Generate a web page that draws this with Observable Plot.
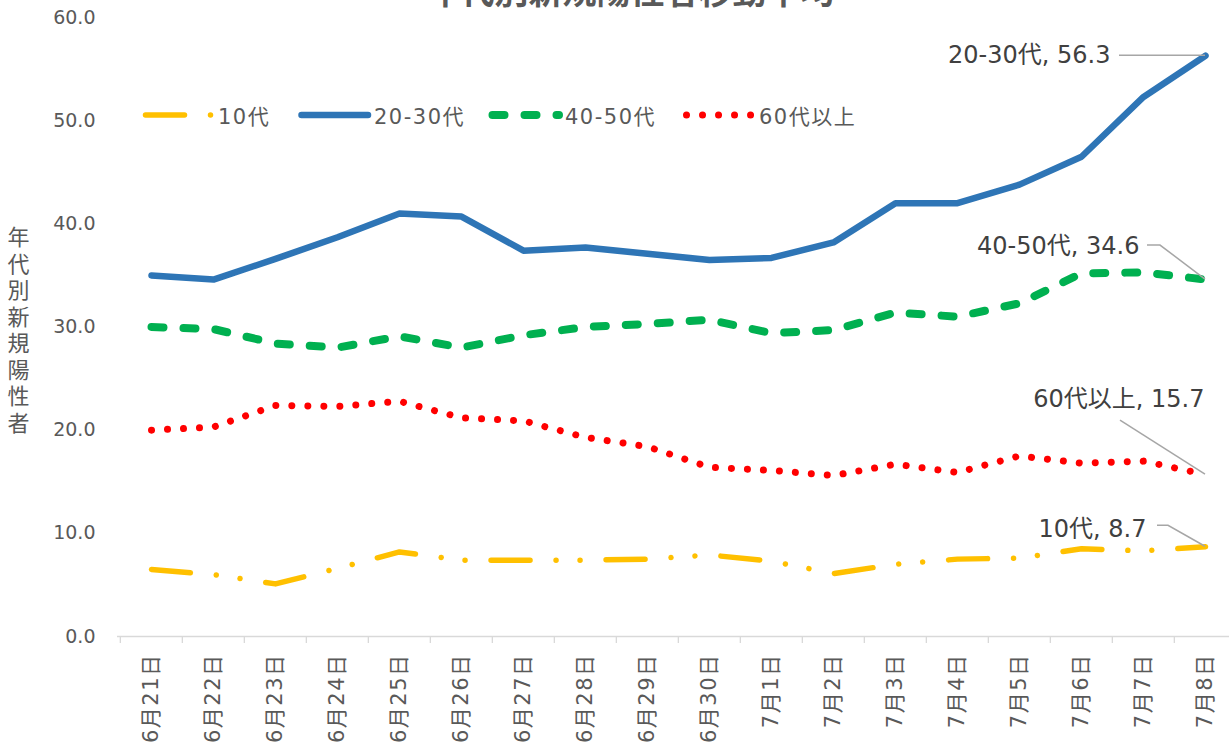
<!DOCTYPE html>
<html>
<head>
<meta charset="utf-8">
<script src="https://cdn.jsdelivr.net/npm/d3@7"></script>
<script src="https://cdn.jsdelivr.net/npm/@observablehq/plot@0.6"></script>
<style>
  html, body { margin: 0; padding: 0; background: #fff; overflow: hidden; width: 1229px; height: 746px; }
  #wrap { position: relative; width: 1229px; height: 746px; overflow: hidden; }
  #legend { position: absolute; top: 103px; left: 0; height: 24px; width: 1229px;
            font-family: "DejaVu Sans", "Noto Sans CJK JP", sans-serif; font-size: 21px; color: #595959; white-space: nowrap; }
  #legend .item { position: absolute; top: 0; height: 24px; display: flex; align-items: center; }
  #legend svg { display: block; }
  #legend span { letter-spacing: 1.5px; }
</style>
</head>
<body>
<div id="wrap"><div id="legend"></div></div>
<script>
// ---- data ----
const dates = ["6月21日","6月22日","6月23日","6月24日","6月25日","6月26日","6月27日","6月28日","6月29日","6月30日",
               "7月1日","7月2日","7月3日","7月4日","7月5日","7月6日","7月7日","7月8日"];
const seriesNames = ["10代", "20-30代", "40-50代", "60代以上"];
const teens    = [6.5, 6.0, 5.1, 6.6, 8.2, 7.4, 7.4, 7.4, 7.5, 7.9, 7.3, 6.1, 7.0, 7.5, 7.6, 8.5, 8.3, 8.7];
const age20_30 = [35.0, 34.6, 36.6, 38.7, 41.0, 40.7, 37.4, 37.7, 37.1, 36.5, 36.7, 38.2, 42.0, 42.0, 43.8, 46.5, 52.3, 56.3];
const age40_50 = [30.0, 29.8, 28.4, 28.0, 29.1, 28.0, 29.2, 30.0, 30.3, 30.7, 29.4, 29.7, 31.4, 31.0, 32.3, 35.2, 35.3, 34.6];
const age60up  = [20.0, 20.3, 22.4, 22.3, 22.8, 21.2, 20.9, 19.3, 18.4, 16.4, 16.1, 15.6, 16.7, 15.9, 17.5, 16.8, 17.0, 15.7];
const yTicks = [0, 10, 20, 30, 40, 50, 60];
const titleText = "年代別新規陽性者移動平均";
const yLabel = "年代別新規陽性者";

// ---- styles ----
const FONT = "'DejaVu Sans', 'Noto Sans CJK JP', sans-serif";
const styles = {
  "10代":    {stroke: "#FFC000", strokeWidth: 5.5, dash: "39,26,0.01,24,0.01,26"},
  "20-30代": {stroke: "#2E75B6", strokeWidth: 6.5, dash: null},
  "40-50代": {stroke: "#00B050", strokeWidth: 8,   dash: "12,20"},
  "60代以上": {stroke: "#FF0000", strokeWidth: 7,   dash: "0.01,16"}
};
const legendLeft = {"10代": 140, "20-30代": 296, "40-50代": 487, "60代以上": 681};
const seriesValues = [teens, age20_30, age40_50, age60up];
const rows = seriesNames.flatMap((s, k) => dates.map((d, i) => ({series: s, date: d, value: seriesValues[k][i]})));
const lastRows = seriesNames.map((s, k) => ({series: s, date: dates[dates.length - 1], value: seriesValues[k][dates.length - 1]}));

// annotation placement (pixel offsets from the last point)
const annot = {
  "20-30代": {dx: -95, dy: 0,   leader: [[-86, 0], [0, 0]]},
  "40-50代": {dx: -66, dy: -33, leader: [[-58, -34], [-45, -34], [0, 0]]},
  "60代以上": {dx: -1,  dy: -75, leader: [[-85, -54], [0, 0]]},
  "10代":    {dx: -59, dy: -17, leader: [[-48, -21], [-37, -21], [0, 0]]}
};

const W = 1240, H = 746, ML = 117, MR = 1, MT = 17, MB = 110;
const step = (W - ML - MR) / dates.length;

const marks = [
  Plot.ruleY([0], {stroke: "#D9D9D9", strokeWidth: 1.3}),
  Plot.ruleX(dates, {x: d => d, y1: 0, y2: 0, insetBottom: -7, dx: -step / 2, stroke: "#D9D9D9", strokeWidth: 1.3}),
  ...seriesNames.map(s => Plot.line(rows.filter(r => r.series === s), {
    x: "date", y: "value", stroke: styles[s].stroke, strokeWidth: styles[s].strokeWidth,
    strokeDasharray: styles[s].dash, strokeLinecap: "round", strokeLinejoin: "round"
  })),
  Plot.text(dates, {x: d => d, frameAnchor: "bottom", dy: 17, rotate: -90, textAnchor: "end", lineAnchor: "middle",
                    fontSize: 21, fill: "#595959", className: "xlab"}),
  ...lastRows.map(r => Plot.text([r], {
    x: "date", y: "value", text: d => `${d.series}, ${d.value.toFixed(1)}`,
    dx: annot[r.series].dx, dy: annot[r.series].dy, textAnchor: "end", lineAnchor: "middle",
    fontSize: 24, fill: "#404040"
  })),
  Plot.text([titleText], {text: d => d, frameAnchor: "top", dx: -48, dy: -14, lineAnchor: "bottom",
                          fontSize: 34, fontWeight: "bold", fill: "#595959"}),
  Plot.text([yLabel], {text: d => d, frameAnchor: "left", dx: -99, dy: 5, textAnchor: "middle",
                       lineAnchor: "bottom", fontSize: 22, fill: "#595959", className: "ylab"})
];

const chart = Plot.plot({
  width: W, height: H,
  marginLeft: ML, marginRight: MR, marginTop: MT, marginBottom: MB,
  style: {fontFamily: FONT, fontSize: "19px", color: "#595959", background: "white", maxWidth: "none", overflow: "visible"},
  x: {type: "point", domain: dates, padding: 0.5, axis: null},
  y: {domain: [0, 60], ticks: yTicks, tickFormat: d3.format(".1f"), tickSize: 0, tickPadding: 22, label: null},
  marks
});
chart.style.position = "absolute";
chart.style.left = "0px";
chart.style.top = "0px";
const wrap = document.getElementById("wrap");
wrap.insertBefore(chart, wrap.firstChild);

// vertical (upright) y-axis title
d3.select(chart).selectAll(".ylab text")
  .style("writing-mode", "vertical-rl")
  .style("text-orientation", "upright")
  .style("letter-spacing", "4.5px")
  .style("font-family", "'Noto Sans CJK JP', sans-serif");
d3.select(chart).selectAll(".xlab text").style("letter-spacing", "1.5px");

// leader lines
const xs = chart.scale("x"), ys = chart.scale("y");
const svg = d3.select(chart);
lastRows.forEach(r => {
  const px = xs.apply(r.date), py = ys.apply(r.value);
  const pts = annot[r.series].leader.map(([ox, oy]) => [px + ox, py + oy]);
  svg.append("path").attr("d", d3.line()(pts)).attr("fill", "none")
     .attr("stroke", "#A6A6A6").attr("stroke-width", 1.5);
});

// legend
const legend = d3.select("#legend");
seriesNames.forEach(s => {
  const it = legend.append("div").attr("class", "item").style("left", legendLeft[s] + "px");
  const sv = it.append("svg").attr("width", 78).attr("height", 20);
  sv.append("line").attr("x1", 5.5).attr("x2", 72).attr("y1", 10).attr("y2", 10)
    .attr("stroke", styles[s].stroke).attr("stroke-width", styles[s].strokeWidth)
    .attr("stroke-linecap", "round").attr("stroke-dasharray", styles[s].dash);
  it.append("span").text(s);
});
</script>
</body>
</html>
